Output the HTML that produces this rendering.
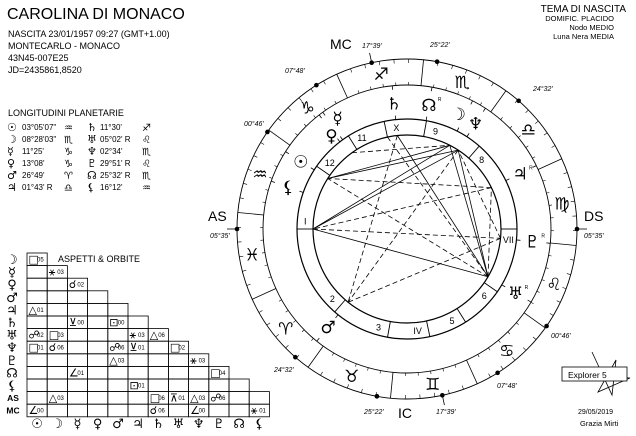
<!DOCTYPE html>
<html><head><meta charset="utf-8"><style>
html,body{margin:0;padding:0;background:#fff;}
svg{display:block;font-family:"Liberation Sans","DejaVu Sans",sans-serif;}
.g{font-family:"DejaVu Sans",sans-serif;}
</style></head><body>
<svg id="s" width="636" height="436" viewBox="0 0 636 436" xmlns="http://www.w3.org/2000/svg">
<rect width="636" height="436" fill="#fff"/>
<text x="7" y="19" font-size="16">CAROLINA DI MONACO</text>
<g font-size="9">
<text x="8" y="37">NASCITA 23/01/1957 09:27 (GMT+1.00)</text>
<text x="8" y="49">MONTECARLO - MONACO</text>
<text x="8" y="61">43N45-007E25</text>
<text x="8" y="73">JD=2435861,8520</text>
<text x="8" y="116">LONGITUDINI PLANETARIE</text>
</g>
<g font-size="8">
<text class="g" x="7" y="131" font-size="11">☉</text><text x="22" y="130">03°05'07"</text><text class="g" x="64" y="131" font-size="10">♒</text>
<text class="g" x="7" y="143" font-size="11">☽</text><text x="22" y="142">08°28'03"</text><text class="g" x="64" y="143" font-size="10">♏</text>
<text class="g" x="7" y="155" font-size="11">☿</text><text x="22" y="154">11°25'</text><text class="g" x="64" y="155" font-size="10">♑</text>
<text class="g" x="7" y="167" font-size="11">♀</text><text x="22" y="166">13°08'</text><text class="g" x="64" y="167" font-size="10">♑</text>
<text class="g" x="7" y="179" font-size="11">♂</text><text x="22" y="178">26°49'</text><text class="g" x="64" y="179" font-size="10">♈</text>
<text class="g" x="7" y="191" font-size="11">♃</text><text x="22" y="190">01°43' R</text><text class="g" x="64" y="191" font-size="10">♎</text>
<text class="g" x="87" y="131" font-size="11">♄</text><text x="100" y="130">11°30'</text><text class="g" x="142" y="131" font-size="10">♐</text>
<text class="g" x="87" y="143" font-size="11">♅</text><text x="100" y="142">05°02' R</text><text class="g" x="142" y="143" font-size="10">♌</text>
<text class="g" x="87" y="155" font-size="11">♆</text><text x="100" y="154">02°34'</text><text class="g" x="142" y="155" font-size="10">♏</text>
<text class="g" x="87" y="167" font-size="11">♇</text><text x="100" y="166">29°51' R</text><text class="g" x="142" y="167" font-size="10">♌</text>
<text class="g" x="87" y="179" font-size="11">☊</text><text x="100" y="178">25°32' R</text><text class="g" x="142" y="179" font-size="10">♏</text>
<text class="g" x="87" y="191" font-size="11">⚸</text><text x="100" y="190">16°12'</text><text class="g" x="142" y="191" font-size="10">♒</text>
</g>
<g font-size="10" text-anchor="end">
<text x="626" y="12">TEMA DI NASCITA</text>
</g>
<g font-size="7.5" text-anchor="end">
<text x="614" y="21">DOMIFIC. PLACIDO</text>
<text x="614" y="30">Nodo MEDIO</text>
<text x="614" y="39">Luna Nera MEDIA</text>
</g>
<text x="58" y="262" font-size="9">ASPETTI &amp; ORBITE</text>
<g font-size="14"><text x="330" y="49">MC</text><text x="208" y="221">AS</text><text x="584" y="221">DS</text><text x="398" y="418">IC</text></g>
<g font-size="7" font-style="italic">
<text x="362" y="48">17°39'</text><text x="430" y="47">25°22'</text><text x="285" y="73">07°48'</text>
<text x="533" y="91">24°32'</text><text x="244" y="126">00°46'</text><text x="210" y="238">05°35'</text>
<text x="584" y="238">05°35'</text><text x="551" y="338">00°46'</text><text x="497" y="388">07°48'</text>
<text x="274" y="372">24°32'</text><text x="364" y="414">25°22'</text><text x="436" y="414">17°39'</text>
</g>
<g stroke="#000" fill="none" stroke-width="0.8">
<polyline points="592,352 605,380 612,395 616,360 598,392 630,378 590,375"/>
</g>
<rect x="562" y="367" width="65" height="14" fill="#fff" stroke="#000" stroke-width="0.8"/>
<text x="568" y="378" font-size="8.5">Explorer 5</text>
<text x="578" y="414" font-size="7">29/05/2019</text>
<text x="580" y="426" font-size="7.5">Grazia Mirti</text>
<g id="dyn"></g>
</svg>
<script>
var NS="http://www.w3.org/2000/svg",D=document.getElementById("dyn");
function el(t,a,txt){var e=document.createElementNS(NS,t);for(var k in a)e.setAttribute(k,a[k]);if(txt!=null)e.textContent=txt;D.appendChild(e);return e;}
var cx=407,cy=229;
function P(a,r){var t=a*Math.PI/180;return[cx+r*Math.cos(t),cy-r*Math.sin(t)];}
function L(a,r1,r2,w,dash){var p=P(a,r1),q=P(a,r2);var o={x1:p[0],y1:p[1],x2:q[0],y2:q[1],stroke:"#000","stroke-width":w||0.8};if(dash)o["stroke-dasharray"]=dash;el("line",o);}
function C(r,w){el("circle",{cx:cx,cy:cy,r:r,fill:"none",stroke:"#000","stroke-width":w||0.9});}
function ang(lon){return 180+lon-335.58;}
C(170);C(144);C(110,1.2);C(94,1.2);
for(var s=0;s<12;s++){L(ang(s*30),144,170,0.8);
 for(var d=5;d<30;d+=5){L(ang(s*30+d),166,170,0.6);L(ang(s*30+d),144,147,0.6);}}
var zg="♈♉♊♋♌♍♎♏♐♑♒♓";
for(s=0;s<12;s++){var p=P(ang(s*30+15),157);el("text",{x:p[0],y:p[1]+6,"font-size":17,"text-anchor":"middle","class":"g"},zg[s]);}
var cusps=[180,145.2,122.2,102,79.8,48.95,0,-34.8,-57.8,-78,-100.2,-131.05];
var hn=["I","12","11","X","9","8","VII","6","5","IV","3","2"];
for(var i=0;i<12;i++){L(cusps[i],94,110,0.9);var q=P(cusps[i],170);el("circle",{cx:q[0],cy:q[1],r:2.3,fill:"#000"});
 var lp=P(cusps[i]-6,102);
 if(i==0)lp=P(175.5,102);
 el("text",{x:lp[0],y:lp[1]+3.5,"font-size":9,"text-anchor":"middle"},hn[i]);}
L(180,170,180,0.8);L(0,170,180,0.8);L(102,170,180,0.8);L(-78,170,180,0.8);
var pl=[["☉",147.5,147.5,126],["☽",62.9,66,126],["☿",125.8,122,131],["♀",127.6,129,120],["♂",231.2,231.2,126],["♃",26.1,26.1,126],["♄",95.9,95.9,126],["♅",-30.5,-30.5,126],["♆",57,57,126],["♇",-5.7,-5.7,126],["☊",80,80,126],["⚸",160.6,160.6,126]];
var R={"♃":1,"♅":1,"♇":1,"☊":1};
pl.forEach(function(a){L(a[1],110,114,0.8);L(a[1],140,144,0.8);var p=P(a[2],a[3]);
 el("text",{x:p[0],y:p[1]+6,"font-size":17,"text-anchor":"middle","class":"g"},a[0]);
 if(R[a[0]])el("text",{x:p[0]+9,y:p[1]-4,"font-size":5},"R");});
var A={Sun:147.5,Moon:62.9,Mer:125.8,Ven:127.6,Mars:231.2,Jup:26.1,Sat:95.9,Ura:-30.5,Nep:57,Plu:-5.7,AS:180,MC:102};
var asp=[["Moon","Sun",0],["Jup","Sun",1],["Ura","Sun",1],["Ura","Moon",0],["Ura","Jup",1],["Ura","Sat",0],["Nep","Sun",0],["Nep","Mars",1],["Nep","Ura",0],["Plu","Mars",1],["Plu","Nep",1],["AS","Moon",0],["AS","Ura",0],["AS","Nep",0],["AS","Plu",1],["Mer","Moon",1],["Sat","Mars",1],["Jup","AS",1],["MC","Ura",1]];
asp.forEach(function(a){var p=P(A[a[0]],94),q=P(A[a[1]],94);var o={x1:p[0],y1:p[1],x2:q[0],y2:q[1],stroke:"#000","stroke-width":0.8};if(a[2])o["stroke-dasharray"]="5,3";el("line",o);});
var x0=27,y0=253,cw=20.2,rh=12.6;
var rows=["☽","☿","♀","♂","♃","♄","♅","♆","♇","☊","⚸","AS","MC"];
var cols=["☉","☽","☿","♀","♂","♃","♄","♅","♆","♇","☊","⚸"];
for(var r=0;r<13;r++){var n=Math.min(r+1,12);
 for(var c=0;c<n;c++)el("rect",{x:x0+c*cw,y:y0+r*rh,width:cw,height:rh,fill:"none",stroke:"#000","stroke-width":0.8});
 if(r<11)el("text",{x:12,y:y0+r*rh+11,"font-size":13,"text-anchor":"middle","class":"g"},rows[r]);
 else el("text",{x:13,y:y0+r*rh+9.5,"font-size":8.5,"text-anchor":"middle","font-weight":"bold"},rows[r]);}
for(c=0;c<12;c++)el("text",{x:x0+c*cw+cw/2,y:y0+13*rh+11,"font-size":13,"text-anchor":"middle","class":"g"},cols[c]);
var cells=[[0,0,"□","05"],[1,1,"⚹","03"],[2,2,"☌","02"],[4,0,"△","01"],[5,2,"⊻","00"],[5,4,"⊡","00"],[6,0,"☍","02"],[6,1,"□","03"],[6,5,"⚹","03"],[6,6,"△","06"],[7,0,"□","01"],[7,1,"☌","06"],[7,4,"☍","06"],[7,5,"⊻","01"],[7,7,"□","02"],[8,4,"△","03"],[8,8,"⚹","03"],[9,2,"∠","01"],[9,9,"□","04"],[10,5,"⊡","01"],[11,1,"△","03"],[11,6,"□","06"],[11,7,"⊼","01"],[11,8,"△","03"],[11,9,"☍","06"],[12,0,"∠","00"],[12,6,"☌","06"],[12,8,"∠","00"],[12,11,"⚹","01"]];
cells.forEach(function(a){var x=x0+a[1]*cw,y=y0+a[0]*rh;
 el("text",{x:x+1.5,y:y+10,"font-size":11,"class":"g"},a[2]);
 el("text",{x:x+10,y:y+8.5,"font-size":6},a[3]);});
</script>
</body></html>
